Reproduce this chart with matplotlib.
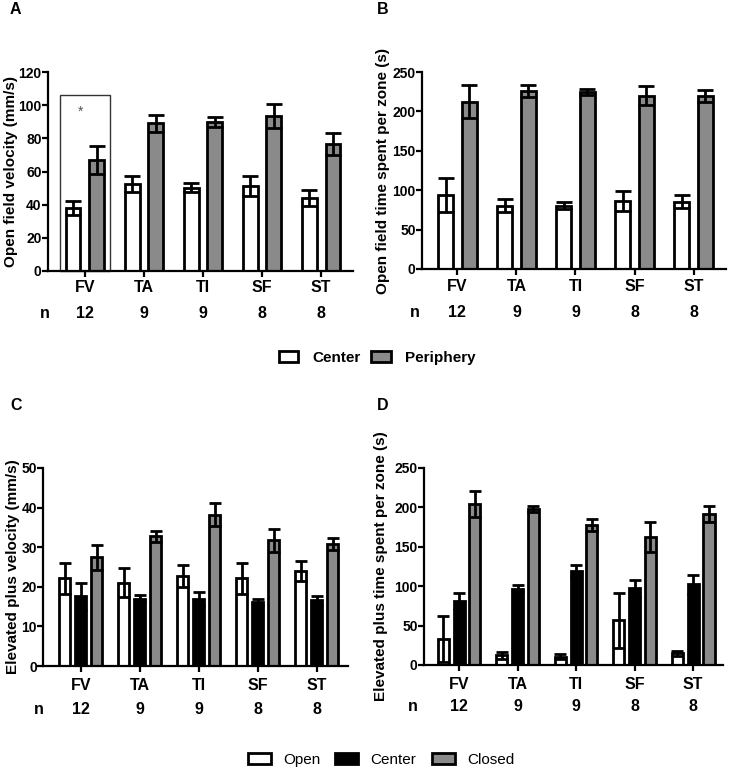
import matplotlib
matplotlib.use("Agg")
import matplotlib.pyplot as plt
from matplotlib.patches import Patch, Rectangle
import matplotlib.transforms as mtransforms
import numpy as np

plt.rcParams['font.family'] = ['Liberation Sans', 'DejaVu Sans']

groups = ["FV", "TA", "TI", "SF", "ST"]
n_vals = ["12", "9", "9", "8", "8"]

# Panel A: open field velocity (mm/s)
a_center = [38, 52.5, 50.3, 51.3, 43.8]
a_center_err = [4.4, 5.0, 2.7, 5.9, 4.8]
a_periph = [67, 89, 89.8, 93.7, 76.6]
a_periph_err = [8.3, 5.2, 3.0, 7.2, 6.6]

# Panel B: open field time per zone (s)
b_center = [94, 80.5, 80.5, 86.4, 85.6]
b_center_err = [21.5, 8, 4.5, 12.7, 8.4]
b_periph = [212, 225.5, 225, 219.6, 219.6]
b_periph_err = [21, 7.5, 4, 12, 8]

# Panel C: elevated plus velocity (mm/s)
c_open = [22.2, 21.0, 22.7, 22.1, 24.0]
c_open_err = [3.9, 3.7, 2.8, 4.0, 2.6]
c_center = [17.6, 17.0, 17.0, 16.1, 16.6]
c_center_err = [3.4, 0.9, 1.6, 0.8, 1.2]
c_closed = [27.4, 32.8, 38.2, 31.8, 30.8]
c_closed_err = [3.1, 1.4, 2.9, 2.9, 1.6]

# Panel D: elevated plus time per zone (s)
d_open = [33.4, 12.2, 10.6, 57.0, 14.8]
d_open_err = [29, 4.3, 3.4, 35, 3.4]
d_center = [81.5, 96.7, 119.5, 97.1, 102.2]
d_center_err = [10, 4.6, 7.2, 10.5, 11.8]
d_closed = [204.4, 198, 177.8, 162.6, 191.7]
d_closed_err = [16.5, 3.8, 7.2, 19.4, 10.6]

W, H = 730, 772
fig = plt.figure(figsize=(W / 100, H / 100), dpi=100)

GRAY = "#8a8a8a"


def add_ax(left, right, y0, ytop):
    return fig.add_axes([left / W, 1 - y0 / H, (right - left) / W, (y0 - ytop) / H])


def style(ax, ylim, yticks, xlim, ylabel, label_x, nx, lab_y, n_y):
    ax.set_ylim(*ylim)
    ax.set_xlim(*xlim)
    ax.set_yticks(yticks)
    ax.set_xticks(range(len(groups)))
    ax.set_xticklabels([])
    for s in ["top", "right"]:
        ax.spines[s].set_visible(False)
    for s in ["left", "bottom"]:
        ax.spines[s].set_linewidth(1.6)
    ax.tick_params(axis="both", width=1.6, length=4, labelsize=10, pad=0.5)
    for t in ax.get_yticklabels():
        t.set_fontweight("bold")
    ax.set_ylabel(ylabel, fontsize=11, fontweight="bold")
    ax.yaxis.set_label_coords(label_x, 0.5)
    trans = mtransforms.blended_transform_factory(ax.transData, ax.transAxes)
    for i, (g, n) in enumerate(zip(groups, n_vals)):
        ax.text(i, lab_y, g, transform=trans, ha="center", va="center",
                fontsize=11.5, fontweight="bold", clip_on=False)
        ax.text(i, n_y, n, transform=trans, ha="center", va="center",
                fontsize=11.5, fontweight="bold", clip_on=False)
    ax.text(nx, n_y, "n", transform=trans, ha="center", va="center",
            fontsize=11.5, fontweight="bold", clip_on=False)


def bars(ax, series, errs, colors, width, offsets, cap):
    x = np.arange(len(groups))
    for vals, err, col, off in zip(series, errs, colors, offsets):
        ax.bar(x + off, vals, width=width, color=col, edgecolor="black",
               linewidth=2.0, zorder=2)
        ax.errorbar(x + off, vals, yerr=err, fmt="none", ecolor="black",
                    elinewidth=2.0, capsize=cap, capthick=2.0, zorder=3)


# Panel A
axA = add_ax(48, 353, 271, 72)
bars(axA, [a_center, a_periph], [a_center_err, a_periph_err],
     ["white", GRAY], 0.25, [-0.2, 0.2], 5.5)
style(axA, (0, 120), range(0, 121, 20), (-0.625, 4.54),
      "Open field velocity (mm/s)", -0.098, -0.68, -0.085, -0.216)
axA.add_patch(Rectangle((-0.42, 0), 0.84, 106, fill=False, edgecolor="#333333",
                        linewidth=1.0, zorder=1, clip_on=False))
axA.text(-0.08, 96, "*", ha="center", va="center", fontsize=10, color="#555555")

# Panel B
axB = add_ax(422, 726, 269, 72)
bars(axB, [b_center, b_periph], [b_center_err, b_periph_err],
     ["white", GRAY], 0.25, [-0.2, 0.2], 5.5)
style(axB, (0, 250), range(0, 251, 50), (-0.6, 4.55),
      "Open field time spent per zone (s)", -0.105, -0.72, -0.09, -0.22)

# Panel C
axC = add_ax(43, 348, 666, 468)
bars(axC, [c_open, c_center, c_closed], [c_open_err, c_center_err, c_closed_err],
     ["white", "black", GRAY], 0.19, [-0.27, 0, 0.27], 4.0)
style(axC, (0, 50), range(0, 51, 10), (-0.64, 4.53),
      "Elevated plus velocity (mm/s)", -0.076, -0.71, -0.096, -0.222)

# Panel D
axD = add_ax(424, 723, 665, 468)
bars(axD, [d_open, d_center, d_closed], [d_open_err, d_center_err, d_closed_err],
     ["white", "black", GRAY], 0.19, [-0.27, 0, 0.27], 4.0)
style(axD, (0, 250), range(0, 251, 50), (-0.6, 4.51),
      "Elevated plus time spent per zone (s)", -0.12, -0.79, -0.101, -0.213)

# Panel letters
for lab, x, y in [("A", 10, 10), ("B", 377, 10), ("C", 10, 405), ("D", 377, 405)]:
    fig.text(x / W, 1 - y / H, lab, fontsize=11.5, fontweight="bold",
             ha="left", va="center")

# Legends
h1 = [Patch(facecolor="white", edgecolor="black", linewidth=2, label="Center"),
      Patch(facecolor=GRAY, edgecolor="black", linewidth=2, label="Periphery")]
fig.legend(handles=h1, loc="center", bbox_to_anchor=(377 / W, 1 - 358 / H),
           ncol=2, frameon=False, prop={"weight": "bold", "size": 11},
           handlelength=1.3, handleheight=0.75, columnspacing=0.7, handletextpad=0.9)

h2 = [Patch(facecolor="white", edgecolor="black", linewidth=2, label="Open"),
      Patch(facecolor="black", edgecolor="black", linewidth=2, label="Center"),
      Patch(facecolor=GRAY, edgecolor="black", linewidth=2, label="Closed")]
fig.legend(handles=h2, loc="center", bbox_to_anchor=(381 / W, 1 - 760 / H),
           ncol=3, frameon=False, prop={"size": 11},
           handlelength=1.5, handleheight=0.75, columnspacing=1.0, handletextpad=0.8)

fig.savefig("out.png", dpi=100)
